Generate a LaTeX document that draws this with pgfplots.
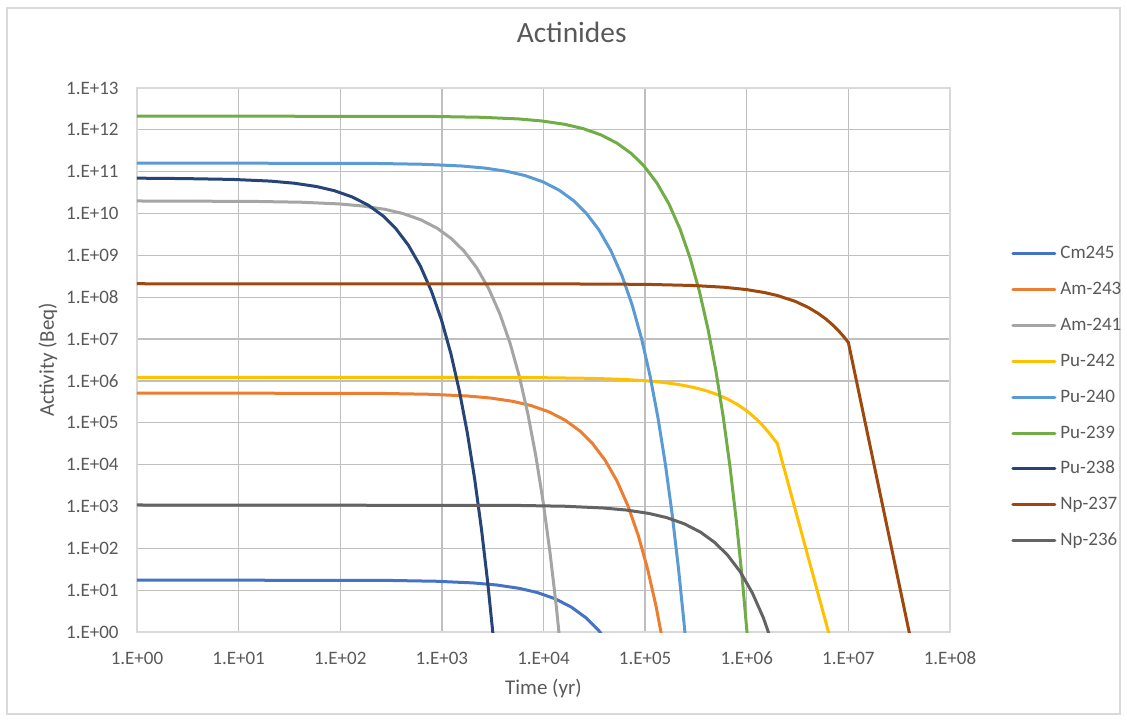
\documentclass[border=0pt]{standalone}
\usepackage{pgfplots}
\pgfplotsset{compat=1.18}
\usepackage{fontspec}
\setmainfont{Carlito}
\definecolor{cCm}{HTML}{4472C4}
\definecolor{cAmA}{HTML}{ED7D31}
\definecolor{cAmB}{HTML}{A5A5A5}
\definecolor{cPuB}{HTML}{FFC000}
\definecolor{cPuA}{HTML}{5B9BD5}
\definecolor{cPuN}{HTML}{70AD47}
\definecolor{cPuE}{HTML}{264478}
\definecolor{cNpS}{HTML}{9E480E}
\definecolor{cNpX}{HTML}{636363}
\definecolor{grid}{HTML}{D9D9D9}
\definecolor{txt}{HTML}{595959}
\begin{document}
\begin{tikzpicture}
\useasboundingbox (-68.5pt,-44.5pt) rectangle (495pt,316pt);
\draw[grid, line width=0.65pt] (-65pt,-41pt) rectangle (491.5pt,312pt);
\begin{axis}[
  at={(0pt,0pt)}, anchor=south west,
  scale only axis, width=406.5pt, height=272pt,
  xmode=log, ymode=log,
  xmin=1, xmax=1e8, ymin=1, ymax=1e13,
  xtick={1,1e1,1e2,1e3,1e4,1e5,1e6,1e7,1e8},
  xticklabels={1.E+00,1.E+01,1.E+02,1.E+03,1.E+04,1.E+05,1.E+06,1.E+07,1.E+08},
  ytick={1,1e1,1e2,1e3,1e4,1e5,1e6,1e7,1e8,1e9,1e10,1e11,1e12,1e13},
  yticklabels={1.E+00,1.E+01,1.E+02,1.E+03,1.E+04,1.E+05,1.E+06,1.E+07,1.E+08,1.E+09,1.E+10,1.E+11,1.E+12,1.E+13},
  xminorticks=false, yminorticks=false,
  tick style={draw=none},
  major tick length=0pt,
  /pgf/number format/assume math mode=true,
  xmajorgrids, ymajorgrids,
  major grid style={grid, line width=0.65pt},
  axis line style={grid, line width=0.65pt},
  tick label style={text=txt, font=\fontsize{9.5}{11}\selectfont},
  xticklabel style={anchor=center, inner sep=0pt, yshift=-13pt},
  yticklabel style={anchor=east, inner sep=0pt, xshift=-9pt},
  xlabel={Time (yr)}, ylabel={Activity (Beq)},
  label style={text=txt, font=\fontsize{10.5}{12}\selectfont},
  xlabel style={at={(axis description cs:0.5,-0.103)}, anchor=center},
  ylabel style={at={(axis description cs:-0.1095,0.5)}, anchor=center, rotate=0},
  title={Actinides},
  title style={at={(axis description cs:0.5347,1.0809)}, anchor=center, text=txt, font=\fontsize{14.7}{17}\selectfont},
  legend cell align=left,
  legend image code/.code={\draw[#1] (0pt,0pt) -- (21pt,0pt);},
  legend style={at={(axis description cs:1.075,0.713)}, anchor=north west, draw=none, fill=none,
    font=\fontsize{9.5}{11}\selectfont, text=txt, row sep=8.95pt, inner sep=0pt,
    nodes={inner sep=0pt, text height=7pt, text depth=2pt},
    /tikz/every odd column/.append style={column sep=2pt}},
  every axis plot/.append style={line width=1.5pt, line join=round, line cap=round},
  clip=true,
]
\addplot[cCm] table {
1 17.4
290 17.10
870 16.33
2029 14.89
3478 13.27
5797 11.04
8696 8.77
13043 6.21
18841 3.92
26087 2.203
34783 1.104
46377 0.4395
};
\addlegendentry{Cm245}
\addplot[cAmA] table {
1 5.14e5
251 5.023e5
754 4.797e5
1760 4.375e5
3017 3.899e5
5029 3.243e5
7544 2.576e5
11315 1.824e5
16344 1.151e5
22631 6.47e4
30174 3.243e4
40232 1.291e4
52805 4083
67892 1026
85493 204.6
105609 32.43
128240 4.083
153385 0.408
};
\addlegendentry{Am-243}
\addplot[cAmB] table {
1 1.995e10
13.8 1.950e10
41.4 1.862e10
96.6 1.698e10
165.5 1.514e10
275.9 1.259e10
413.8 1.0e10
620.7 7.079e9
896.6 4.467e9
1241 2.512e9
1655 1.259e9
2207 5.012e8
2897 1.585e8
3724 3.981e7
4690 7.943e6
5793 1.259e6
7034 1.585e5
8414 1.585e4
9931 1259
11586 79.43
13379 3.981
15310 0.1585
};
\addlegendentry{Am-241}
\addplot[cPuB] table {
1 1.216e6
1000 1.214e6
10000 1.194e6
30000 1.151e6
60000 1.089e6
100000 1.012e6
150000 9.23e5
220000 8.11e5
300000 7.0e5
400000 5.82e5
500000 4.84e5
650000 3.67e5
800000 2.786e5
1000000 1.928e5
1250000 1.216e5
1500000 7.67e4
1750000 4.84e4
2000000 3.2e4
10000000 0.0176
};
\addlegendentry{Pu-242}
\addplot[cPuA] table {
1 1.611e11
220 1.574e11
659 1.503e11
1538 1.371e11
2637 1.222e11
4396 1.016e11
6593 8.07e10
9890 5.71e10
14286 3.606e10
19780 2.028e10
26374 1.016e10
35165 4.046e9
46154 1.279e9
59341 3.214e8
74725 6.412e7
92308 1.016e7
112088 1.279e6
134066 1.279e5
158242 1.016e4
184615 641.2
213187 32.14
243956 1.279
276923 0.0405
};
\addlegendentry{Pu-240}
\addplot[cPuN] table {
1 2.138e12
816 2.089e12
2449 1.995e12
5714 1.820e12
9796 1.622e12
16327 1.349e12
24490 1.072e12
36735 7.586e11
53061 4.786e11
73469 2.692e11
97959 1.349e11
130612 5.370e10
171429 1.698e10
220408 4.266e9
277551 8.511e8
342857 1.349e8
416327 1.698e7
497959 1.698e6
587755 1.349e5
685714 8511
791837 426.6
906122 16.98
1028571 0.537
};
\addlegendentry{Pu-239}
\addplot[cPuE] table {
1 7.0e10
2.92 6.839e10
8.77 6.531e10
20.5 5.957e10
35.1 5.309e10
58.5 4.416e10
87.7 3.508e10
131.6 2.483e10
190.1 1.567e10
263.2 8.810e9
350.9 4.416e9
467.8 1.758e9
614.0 5.559e8
789.5 1.396e8
994.2 2.786e7
1228 4.416e6
1491 5.559e5
1784 5.559e4
2105 4416
2456 278.6
2836 13.96
3246 0.5559
3684 0.01758
};
\addlegendentry{Pu-238}
\addplot[cNpS] table {
1 2.099e8
10000 2.092e8
100000 2.032e8
300000 1.905e8
600000 1.730e8
1000000 1.520e8
1500000 1.291e8
2000000 1.099e8
3000000 7.96e7
4000000 5.754e7
5000000 4.169e7
6000000 3.020e7
7000000 2.183e7
8000000 1.581e7
9000000 1.143e7
10000000 8.28e6
100000000 2.24e-5
};
\addlegendentry{Np-237}
\addplot[cNpX] table {
1 1084
5405 1059
16216 1012
37838 922.6
64865 822.2
108108 683.9
162162 543.3
243243 384.6
351351 242.7
486486 136.5
648649 68.39
864865 27.23
1135135 8.610
1459459 2.163
1837838 0.4315
};
\addlegendentry{Np-236}
\end{axis}
\end{tikzpicture}
\end{document}
